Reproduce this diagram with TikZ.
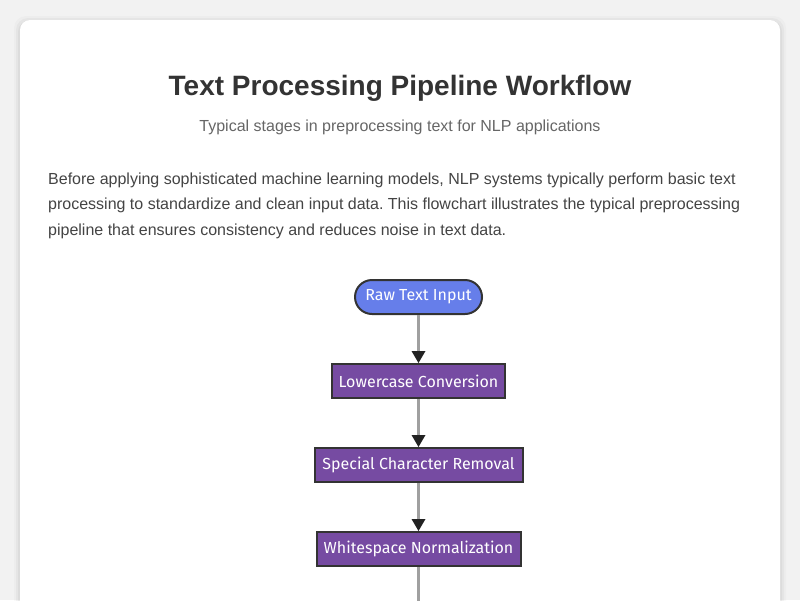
\documentclass[tikz,border=0pt]{standalone}
\usepackage{fontspec}
\setmainfont{Liberation Sans}
\newfontfamily\nodefont{Fira Sans}
\usetikzlibrary{arrows.meta,shapes.misc}
\definecolor{bgc}{HTML}{F2F2F2}
\definecolor{titlec}{HTML}{333333}
\definecolor{subc}{HTML}{666666}
\definecolor{parac}{HTML}{444444}
\definecolor{bluec}{HTML}{667EEA}
\definecolor{purplec}{HTML}{764BA2}
\definecolor{edgec}{HTML}{333333}
\definecolor{linec}{HTML}{A0A0A0}
\definecolor{tipc}{HTML}{222222}
\frenchspacing
\begin{document}
\begin{tikzpicture}[x=1pt,y=-1pt,
  parline/.style={anchor=base west,inner sep=0pt,font=\fontsize{16}{19}\selectfont,text=parac},
  procbox/.style={draw=edgec,line width=2pt,fill=purplec,text=white,minimum height=34pt,inner xsep=2pt,inner ysep=0pt,font=\nodefont\fontsize{16}{19}\selectfont},
  startbox/.style={procbox,rounded rectangle,fill=bluec},
  flow/.style={draw=linec,line width=2.2pt,-{Triangle[length=12pt,width=14pt,color=tipc,line width=0pt]}}
]
\useasboundingbox (0,0) rectangle (800,600);
\fill[bgc] (0,0) rectangle (800,600);
% card shadow
\foreach \i/\o in {6/0.02,4/0.03,2/0.04}{
  \fill[black,opacity=\o,rounded corners=12pt] (20-\i,20-\i+2) rectangle (780+\i,640);
}
\fill[white,rounded corners=10pt] (20,20) rectangle (780,640);
% texts
\node[anchor=base,inner sep=0pt,font=\fontsize{28}{32}\selectfont\bfseries,text=titlec] (title) at (400,95.5) {Text Processing Pipeline Workflow};
\node[anchor=base,inner sep=0pt,font=\fontsize{16}{19}\selectfont,text=subc] (sub) at (400,131) {Typical stages in preprocessing text for NLP applications};
\node[parline] (p1) at (48,184) {Before applying sophisticated machine learning models, NLP systems typically perform basic text};
\node[parline] (p2) at (48,209.6) {processing to standardize and clean input data. This flowchart illustrates the typical preprocessing};
\node[parline] (p3) at (48,235.2) {pipeline that ensures consistency and reduces noise in text data.};
% nodes
\node[startbox,minimum width=131pt] (raw) at (418.5,297) {Raw Text Input};
\node[procbox,minimum width=173pt] (low) at (418.5,381) {Lowercase Conversion};
\node[procbox,minimum width=208pt] (spec) at (418.5,465) {Special Character Removal};
\node[procbox,minimum width=204pt] (ws) at (418.5,549) {Whitespace Normalization};
\coordinate (nxt) at (418.5,620);
\draw[flow] (raw) -- (low);
\draw[flow] (low) -- (spec);
\draw[flow] (spec) -- (ws);
\draw[draw=linec,line width=2.2pt] (ws) -- (nxt);
\end{tikzpicture}
\end{document}
